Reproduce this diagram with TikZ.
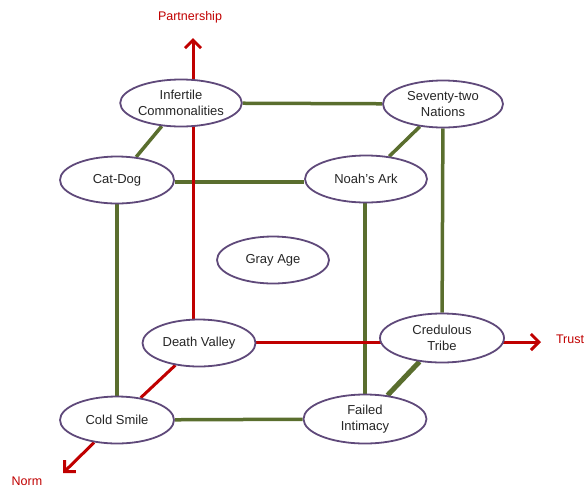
\documentclass[tikz,border=0pt]{standalone}
\usepackage{fontspec}
\setmainfont{Liberation Sans}
\usetikzlibrary{shapes.geometric,arrows.meta}
\definecolor{axred}{HTML}{C00000}
\definecolor{edgegreen}{HTML}{5A6E2E}
\definecolor{rimpurple}{HTML}{5F497A}
\definecolor{txt}{HTML}{262626}
\pgfdeclarelayer{bg}
\pgfsetlayers{bg,main}
\tikzset{
  ell/.style={ellipse, draw=rimpurple, line width=1.8pt, fill=white, inner sep=0pt,
    minimum width=114pt, minimum height=47pt, align=center, text=txt,
    font=\fontsize{13}{15.5}\selectfont},
  gedge/.style={draw=edgegreen, line width=3.5pt},
  redge/.style={draw=axred, line width=3pt},
  rarrow/.style={redge, -{Straight Barb[length=8pt, width=16pt, line width=3pt]}},
  axlabel/.style={text=axred, font=\fontsize{12.5}{14}\selectfont, inner sep=0pt}
}
\begin{document}
\begin{tikzpicture}[x=1pt,y=-1pt]
\useasboundingbox (0,0) rectangle (586,488);
\node[ell] (IC) at (181,103) {Infertile\\Commonalities};
\node[ell, minimum width=120pt] (SN) at (443,104) {Seventy-two\\Nations};
\node[ell] (CD) at (117,180) {Cat-Dog};
\node[ell, minimum width=122pt] (NA) at (366,179) {Noah's Ark};
\node[ell, minimum width=112pt] (GA) at (273,260) {Gray Age};
\node[ell, minimum width=113pt] (DV) at (199,343) {Death Valley};
\node[ell, minimum width=124pt, minimum height=49pt] (CT) at (442,338) {Credulous\\Tribe};
\node[ell] (CS) at (117,420) {Cold Smile};
\node[ell, minimum width=123pt, minimum height=49pt] (FI) at (365,419) {Failed\\Intimacy};
\coordinate (P) at (193,38);
\coordinate (T) at (541,342);
\coordinate (N) at (63,473);
\node[axlabel] (Pl) at (190,17) {Partnership};
\node[axlabel] (Tl) at (570,339) {Trust};
\node[axlabel] (Nl) at (27,481) {Norm};
\begin{pgfonlayer}{bg}
  \draw[gedge] (IC) -- (SN);
  \draw[gedge] (IC) -- (CD);
  \draw[gedge] (SN) -- (NA);
  \draw[gedge] (CD.east |- 0,182) -- (NA.west |- 0,182);
  \draw[gedge] (CD) -- (CS);
  \draw[gedge] (SN) -- (CT);
  \draw[gedge] (NA.south -| FI) -- (FI);
  \draw[gedge, line width=5pt] (CT) -- (FI);
  \draw[gedge] (CS) -- (FI);
  \draw[rarrow] (DV.north -| P) -- (P);
  \draw[rarrow] (DV.east |- T) -- (T);
  \draw[redge] (DV) -- (CS);
  \draw[rarrow] (CS) -- (N);
\end{pgfonlayer}
\end{tikzpicture}
\end{document}
